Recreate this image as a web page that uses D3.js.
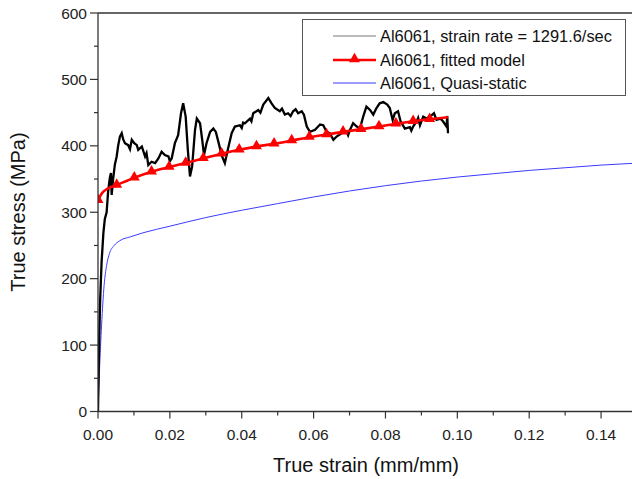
<!DOCTYPE html>
<html>
<head>
<meta charset="utf-8">
<script src="https://cdn.jsdelivr.net/npm/d3@7"></script>
<style>
  html, body { margin: 0; padding: 0; background: #fff; }
  svg { display: block; font-family: "Liberation Sans", Arial, sans-serif; }
</style>
</head>
<body>
<svg id="chart" width="632" height="479"></svg>
<script>
// Dynamic test (split Hopkinson bar), strain rate 1291.6/s
const dynStrain = [0,0.0003,0.0006,0.0010,0.0015,0.0019,0.0024,0.0028,0.0031,0.0033,0.0036,0.0038,0.0042,0.0047,0.0052,0.0056,0.0061,0.0066,0.0070,0.0075,0.0084,0.0089,0.0094,0.0101,0.0108,0.0112,0.0122,0.0131,0.0135,0.0140,0.0149,0.0159,0.0168,0.0177,0.0186,0.0196,0.0200,0.0205,0.0214,0.0223,0.0231,0.0237,0.0244,0.0250,0.0256,0.0262,0.0270,0.0275,0.0284,0.0290,0.0295,0.0302,0.0312,0.0321,0.0328,0.0335,0.0344,0.0353,0.0362,0.0372,0.0381,0.0395,0.0400,0.0404,0.0409,0.0423,0.0427,0.0432,0.0446,0.0452,0.0460,0.0474,0.0483,0.0492,0.0506,0.0512,0.0520,0.0529,0.0536,0.0543,0.0550,0.0557,0.0567,0.0573,0.0581,0.0590,0.0604,0.0618,0.0627,0.0636,0.0645,0.0655,0.0664,0.0678,0.0692,0.0696,0.0701,0.0710,0.0720,0.0729,0.0738,0.0747,0.0757,0.0766,0.0775,0.0784,0.0794,0.0805,0.0812,0.0820,0.0826,0.0835,0.0842,0.0854,0.0868,0.0872,0.0877,0.0887,0.0891,0.0896,0.0905,0.0914,0.0924,0.0935,0.0942,0.0953,0.0960,0.0970,0.0972,0.0974];
const dynStress = [0,100,168,225,269,290,300,330,344,352,359,326,350,372,384,400,414,419,410,404,401,395,409,404,401,394,399,384,389,371,376,374,381,391,386,384,377,381,404,416,449,464,444,394,354,369,424,441,434,409,386,404,421,426,421,406,386,374,396,419,429,431,427,435,434,441,437,449,454,450,462,472,464,457,452,456,447,449,445,452,455,449,452,447,429,421,424,432,431,421,419,409,414,419,421,416,424,434,429,426,444,459,454,447,457,464,466,462,457,439,449,452,437,426,428,423,429,437,442,431,444,441,444,449,439,441,437,429,445,419];

// Fitted constitutive model
const fitStrain = [0,0.001,0.0025,0.0052,0.0101,0.0149,0.0198,0.0244,0.0293,0.0344,0.0393,0.0441,0.0490,0.0539,0.0588,0.0636,0.0682,0.0732,0.0782,0.0829,0.0877,0.0923,0.0974];
const fitStress = [318,328,335,341,352,361,368,374,381,388,394,399,403,408,413,417,421,425,429,433,437,440,443];
const fitMarkerIdx = [0,3,4,5,6,7,8,9,10,11,12,13,14,15,16,17,18,19,20,21];

// Quasi-static test
const qsStrain = [0,0.0004,0.0010,0.0017,0.0024,0.0032,0.0045,0.0060,0.0090,0.0125,0.020,0.030,0.040,0.050,0.060,0.070,0.080,0.090,0.100,0.110,0.120,0.130,0.140,0.150];
const qsStress = [0,60,130,190,220,238,250,257,263,269,279,292,303,313,323,332,340,347,353,358,363,367,371,374];

const xTicks = [0,0.02,0.04,0.06,0.08,0.10,0.12,0.14];
const xMinor = [0.01,0.03,0.05,0.07,0.09,0.11,0.13];
const yTicks = [0,100,200,300,400,500,600];
const yMinor = [50,150,250,350,450,550];

const legendLabels = ["Al6061, strain rate = 1291.6/sec", "Al6061, fitted model", "Al6061, Quasi-static"];

const svg = d3.select("#chart");
const x = d3.scaleLinear().domain([0, 0.15]).range([98, 637]);
const y = d3.scaleLinear().domain([0, 600]).range([411.5, 13]);

svg.append("defs").append("clipPath").attr("id", "plotclip")
  .append("rect").attr("x", 98).attr("y", 13).attr("width", 540).attr("height", 399);

const plot = svg.append("g").attr("clip-path", "url(#plotclip)");

// quasi-static curve
plot.append("path")
  .datum(qsStrain.map((s, i) => [s, qsStress[i]]))
  .attr("fill", "none").attr("stroke", "#3b3bff").attr("stroke-width", 1)
  .attr("d", d3.line().x(d => x(d[0])).y(d => y(d[1])).curve(d3.curveMonotoneX));

// dynamic test curve
plot.append("path")
  .datum(dynStrain.map((s, i) => [s, dynStress[i]]))
  .attr("fill", "none").attr("stroke", "#000").attr("stroke-width", 2.3)
  .attr("stroke-linejoin", "miter")
  .attr("d", d3.line().x(d => x(d[0])).y(d => y(d[1])));

// fitted model
plot.append("path")
  .datum(fitStrain.map((s, i) => [s, fitStress[i]]))
  .attr("fill", "none").attr("stroke", "#ff0000").attr("stroke-width", 2.6)
  .attr("d", d3.line().x(d => x(d[0])).y(d => y(d[1])).curve(d3.curveMonotoneX));

const tri = d3.symbol().type(d3.symbolTriangle).size(52);
plot.selectAll(".fitmark").data(fitMarkerIdx).join("path")
  .attr("class", "fitmark")
  .attr("transform", i => `translate(${x(fitStrain[i])},${y(fitStress[i]) - 0.5})`)
  .attr("d", tri).attr("fill", "#ff0000");

// frame top
svg.append("line").attr("x1", 98).attr("x2", 632).attr("y1", 13).attr("y2", 13)
  .attr("stroke", "#333").attr("stroke-width", 1.5);

// axes
const xAxis = svg.append("g").attr("transform", "translate(0,411.5)");
xAxis.append("line").attr("x1", 98).attr("x2", 632).attr("stroke", "#333").attr("stroke-width", 1.3);
xAxis.selectAll(".xt").data(xTicks).join("line")
  .attr("x1", d => x(d)).attr("x2", d => x(d)).attr("y1", 0).attr("y2", 7)
  .attr("stroke", "#333").attr("stroke-width", 1.2);
xAxis.selectAll(".xm").data(xMinor).join("line")
  .attr("x1", d => x(d)).attr("x2", d => x(d)).attr("y1", 0).attr("y2", 4)
  .attr("stroke", "#333").attr("stroke-width", 1.2);
xAxis.selectAll(".xl").data(xTicks).join("text")
  .attr("x", d => x(d)).attr("y", 28).attr("text-anchor", "middle")
  .attr("font-size", 15.5).attr("fill", "#222").text(d => d3.format(".2f")(d));

const yAxis = svg.append("g").attr("transform", "translate(98,0)");
yAxis.append("line").attr("y1", 13).attr("y2", 411.5).attr("stroke", "#333").attr("stroke-width", 1.3);
yAxis.selectAll(".yt").data(yTicks).join("line")
  .attr("x1", -8).attr("x2", 0).attr("y1", d => y(d)).attr("y2", d => y(d))
  .attr("stroke", "#333").attr("stroke-width", 1.2);
yAxis.selectAll(".ym").data(yMinor).join("line")
  .attr("x1", -4).attr("x2", 0).attr("y1", d => y(d)).attr("y2", d => y(d))
  .attr("stroke", "#333").attr("stroke-width", 1.2);
yAxis.selectAll(".yl").data(yTicks).join("text")
  .attr("x", -11).attr("y", d => y(d) + 5.5).attr("text-anchor", "end")
  .attr("font-size", 15.5).attr("fill", "#222").text(d => d);

// axis titles
svg.append("text").attr("x", 366).attr("y", 472).attr("text-anchor", "middle")
  .attr("font-size", 20).attr("fill", "#111").text("True strain (mm/mm)");
svg.append("text").attr("transform", "translate(25,212) rotate(-90)").attr("text-anchor", "middle")
  .attr("font-size", 20).attr("fill", "#111").text("True stress (MPa)");

// legend
const lg = svg.append("g");
lg.append("rect").attr("x", 302.5).attr("y", 19.5).attr("width", 323).attr("height", 76)
  .attr("fill", "#fff").attr("stroke", "#555").attr("stroke-width", 1);
const rows = [36, 60, 83];
lg.append("line").attr("x1", 333).attr("x2", 376).attr("y1", rows[0]).attr("y2", rows[0])
  .attr("stroke", "#777").attr("stroke-width", 1);
lg.append("line").attr("x1", 333).attr("x2", 376).attr("y1", rows[1]).attr("y2", rows[1])
  .attr("stroke", "#ff0000").attr("stroke-width", 2.4);
lg.append("path").attr("transform", `translate(354.5,${rows[1] - 1})`).attr("d", tri).attr("fill", "#ff0000");
lg.append("line").attr("x1", 333).attr("x2", 376).attr("y1", rows[2]).attr("y2", rows[2])
  .attr("stroke", "#3b3bff").attr("stroke-width", 1);
lg.selectAll(".lt").data(legendLabels).join("text")
  .attr("x", 380).attr("y", (d, i) => rows[i] + 6)
  .attr("font-size", 16.4).attr("fill", "#111").text(d => d);
</script>
</body>
</html>
